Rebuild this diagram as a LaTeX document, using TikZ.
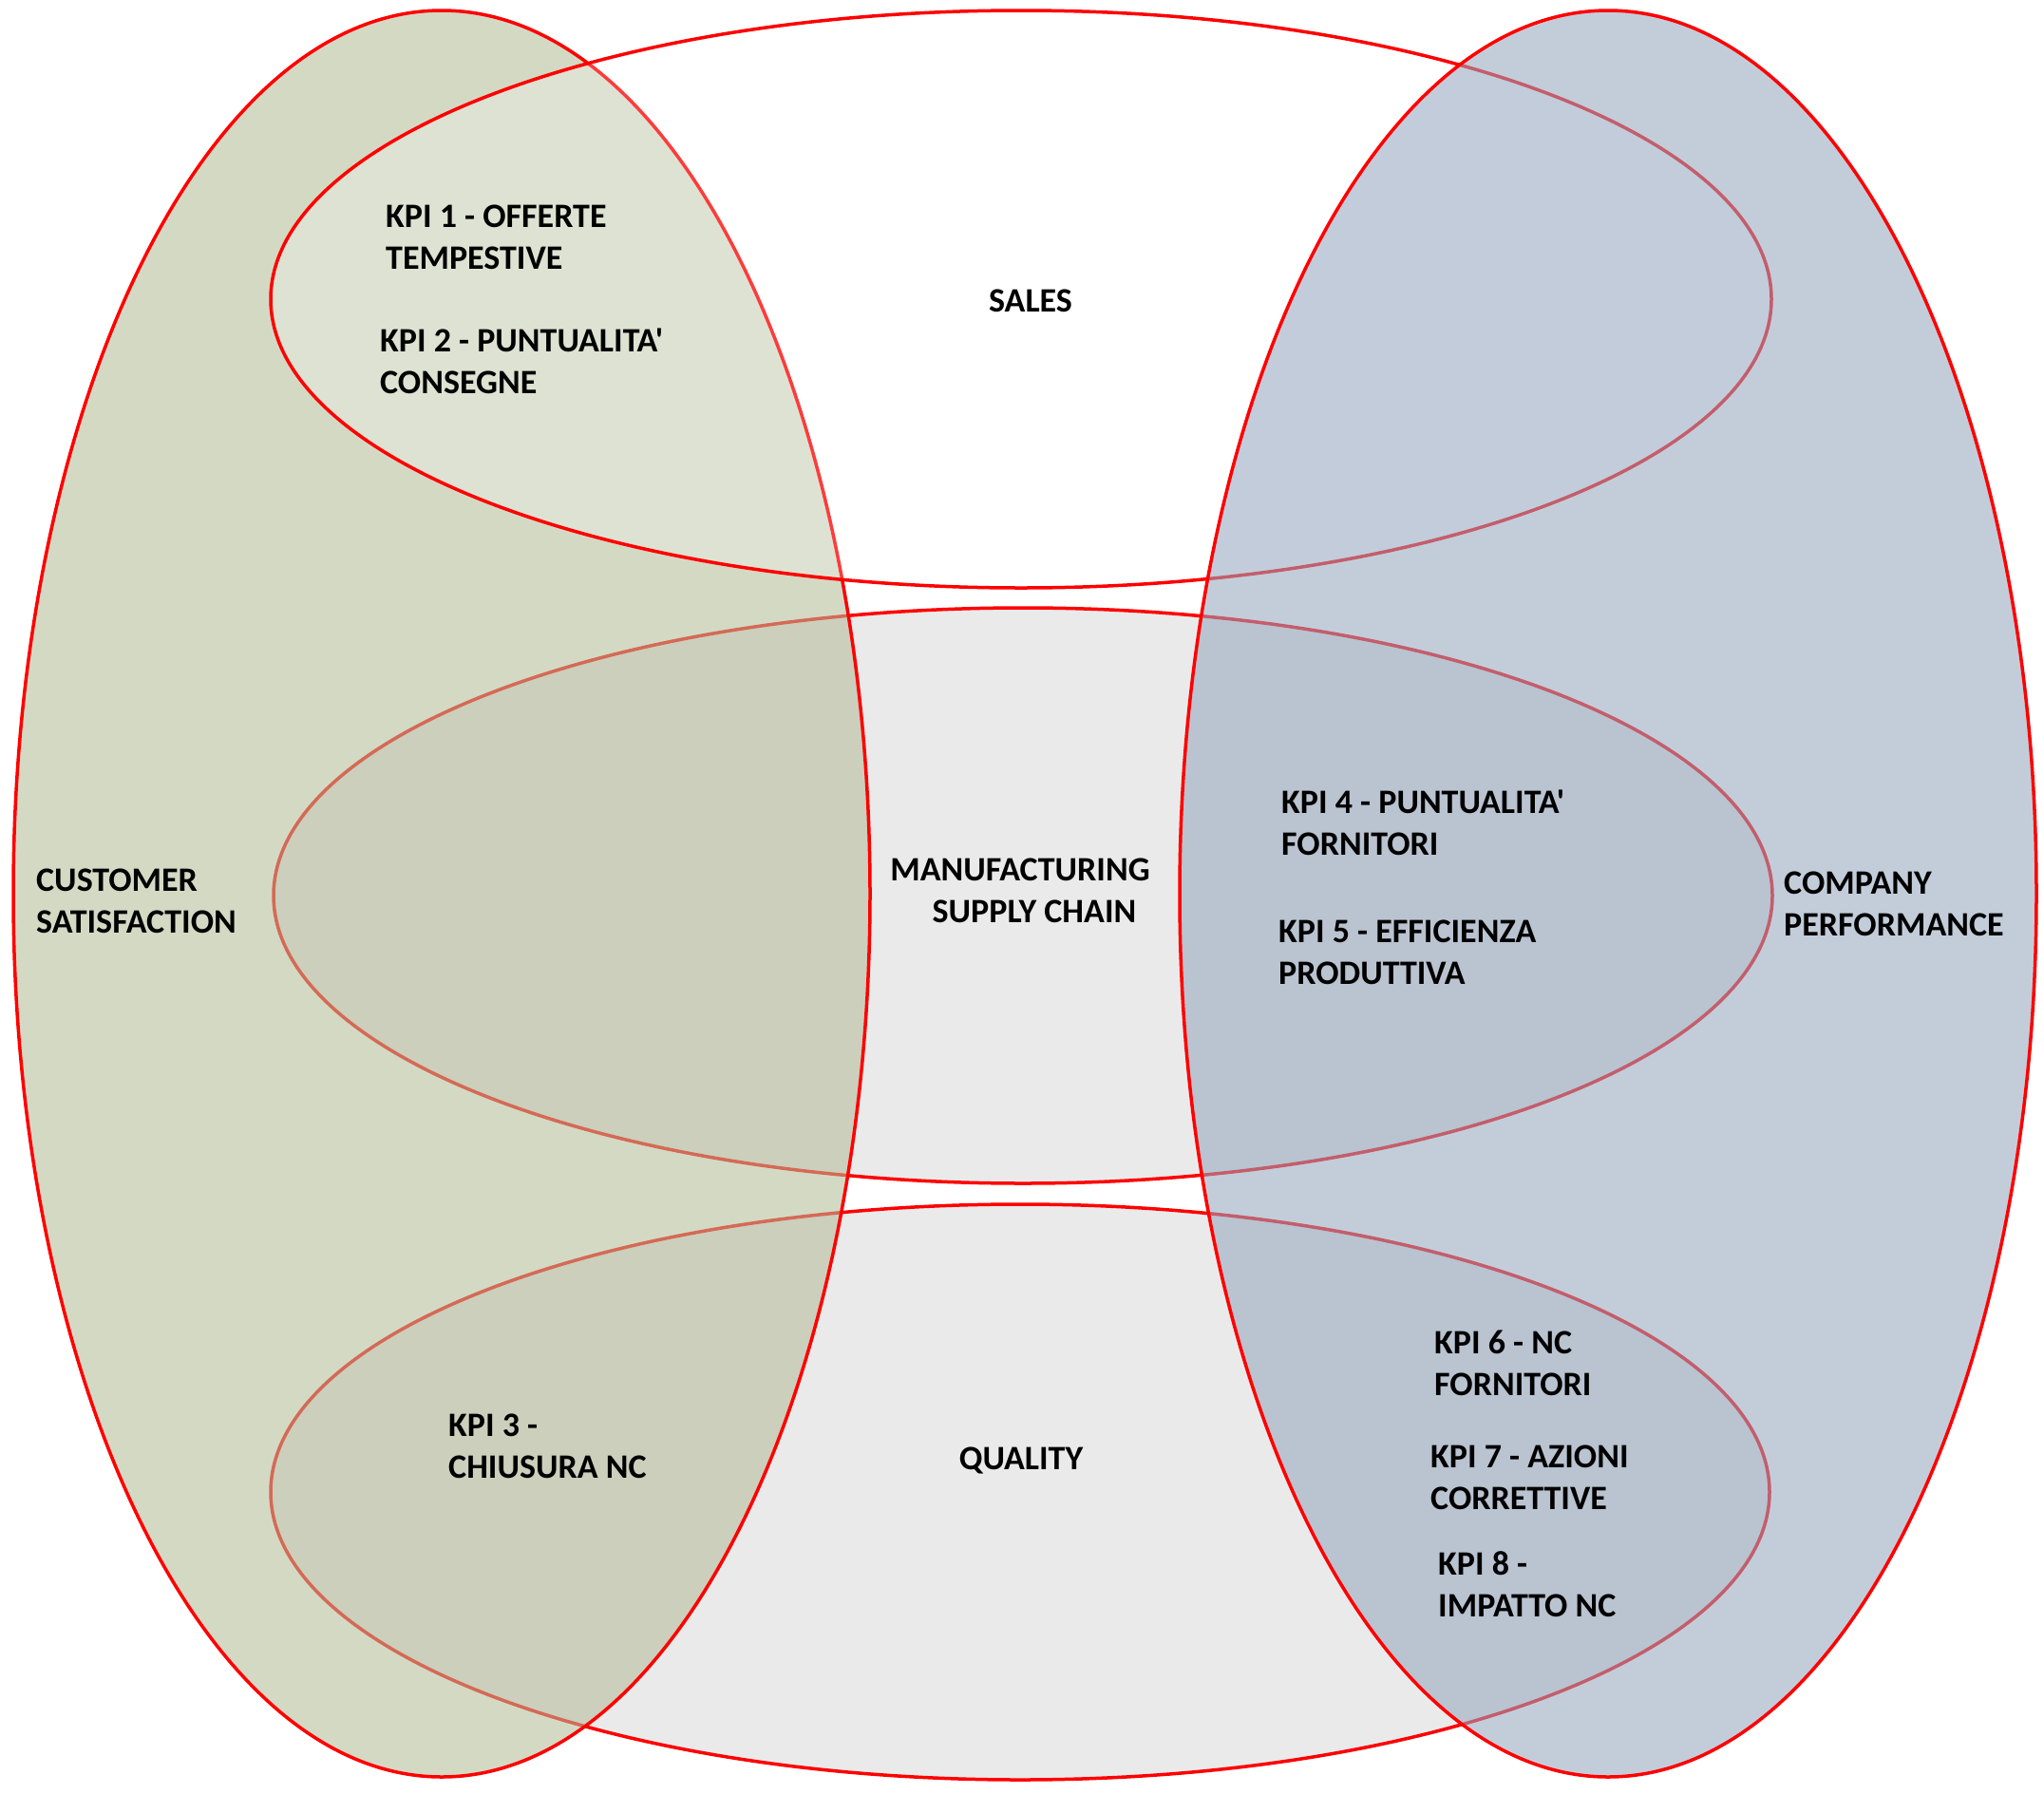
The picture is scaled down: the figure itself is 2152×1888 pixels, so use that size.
\documentclass[tikz,border=0pt]{standalone}
\usepackage{fontspec}
\setmainfont{Carlito}[Ligatures=TeXOff]
\definecolor{leftfill}{RGB}{180,188,152}
\definecolor{rightfill}{RGB}{150,167,190}
\definecolor{midgray}{RGB}{234,234,234}
\begin{document}
\begin{tikzpicture}[x=1pt,y=-1pt,
  ring/.style={draw=red, line width=3.5pt},
  bigring/.style={ring, fill opacity=0.57, draw opacity=1},
  lbl/.style={font=\fontsize{36}{44}\selectfont\bfseries, inner sep=0pt, align=left, text=black, text opacity=1},
]
\useasboundingbox (0,0) rectangle (2152,1888);
% middle and bottom bands
\path[ring, fill=midgray] (1077,943) ellipse [x radius=789pt, y radius=303pt];
\path[ring, fill=midgray] (1074,1571) ellipse [x radius=789pt, y radius=303pt];
% left vertical ellipse
\path[bigring, fill=leftfill] (465,941) ellipse [x radius=451pt, y radius=930pt];
% sales ellipse
\path[ring, fill=white, fill opacity=0.23] (1075,315) ellipse [x radius=790pt, y radius=304pt];
% right vertical ellipse
\path[bigring, fill=rightfill] (1693,941) ellipse [x radius=451pt, y radius=930pt];

% labels
\node[lbl, anchor=west] (kpi1) at (406,250) {KPI 1 - OFFERTE\\TEMPESTIVE};
\node[lbl, anchor=west] (kpi2) at (400,380) {KPI 2 - PUNTUALITA'\\CONSEGNE};
\node[lbl, anchor=base] (sales) at (1085,328) {SALES};
\node[lbl, anchor=west] (cust) at (38,949) {CUSTOMER\\SATISFACTION};
\node[lbl, anchor=center, align=center] (manu) at (1074,938) {MANUFACTURING\\\hspace*{30pt}SUPPLY CHAIN};
\node[lbl, anchor=west] (kpi4) at (1349,866) {KPI 4 - PUNTUALITA'\\FORNITORI};
\node[lbl, anchor=west] (kpi5) at (1346,1003) {KPI 5 - EFFICIENZA\\PRODUTTIVA};
\node[lbl, anchor=west] (comp) at (1878,952) {COMPANY\\PERFORMANCE};
\node[lbl, anchor=west] (kpi3) at (472,1523) {KPI 3 -\\CHIUSURA NC};
\node[lbl, anchor=base] (qual) at (1075,1547) {QUALITY};
\node[lbl, anchor=west] (kpi6) at (1510,1435) {KPI 6 - NC\\FORNITORI};
\node[lbl, anchor=west] (kpi7) at (1506,1556) {KPI 7 - AZIONI\\CORRETTIVE};
\node[lbl, anchor=west] (kpi8) at (1514,1668) {KPI 8 -\\IMPATTO NC};
\end{tikzpicture}
\end{document}
